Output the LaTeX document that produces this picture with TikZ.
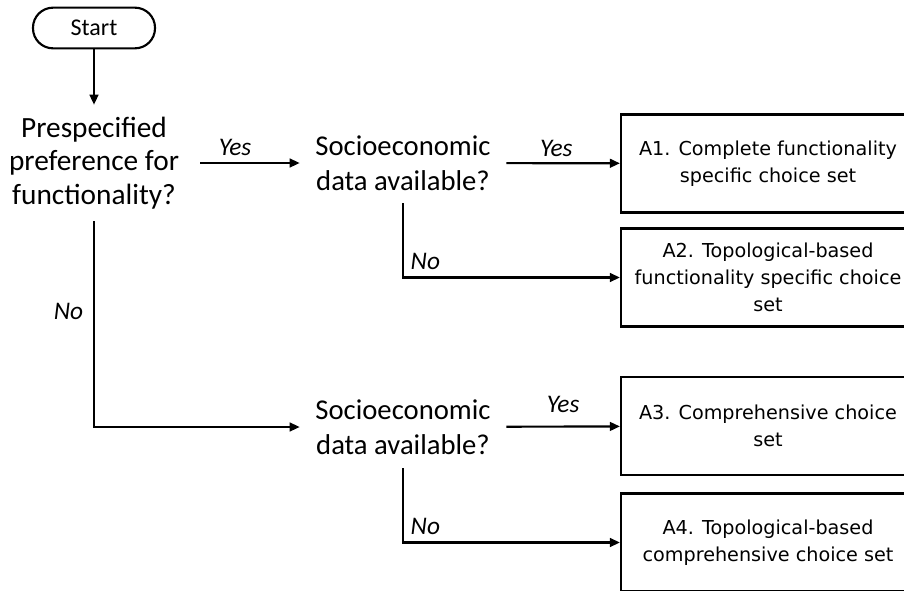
\documentclass[tikz,border=0pt]{standalone}
\usepackage{fontspec}
\setmainfont{Carlito}
\newfontfamily\boxfont{DejaVu Sans}
\usetikzlibrary{arrows.meta}

\tikzset{
  arr/.style={-{Triangle[length=7.5pt,width=6.5pt]}, line width=1.6pt},
  question/.style={align=center, font=\fontsize{21.5}{26}\selectfont, minimum width=154.5pt, minimum height=60pt, inner sep=0pt},
  outcome/.style={draw, line width=1.6pt, align=center, font=\boxfont\fontsize{14.4}{20.5}\selectfont, minimum width=220.5pt, minimum height=73.5pt},
  answer/.style={font=\itshape\fontsize{19}{22}\selectfont},
}

\begin{document}
\begin{tikzpicture}[x=0.75pt, y=-0.75pt]
\useasboundingbox (0,0) rectangle (904,590);
\clip (0,0) rectangle (904,590);
% start
\node[draw, line width=1.6pt, rounded corners=15pt, minimum width=91.5pt, minimum height=30.5pt, font=\fontsize{18}{20}\selectfont] (start) at (94,28) {Start};
% questions
\node[question, font=\fontsize{22}{25}\selectfont, minimum width=159pt, minimum height=87pt] (q1) at (94,163) {Prespecified\\preference for\\functionality?};
\node[question] (q2) at (403,163) {Socioeconomic\\data available?};
\node[question, minimum height=61.5pt] (q3) at (403,427) {Socioeconomic\\data available?};
% outcomes
\node[outcome] (a1) at (768,163.5) {A1. Complete functionality\\specific choice set};
\node[outcome] (a2) at (768,277.5) {A2. Topological-based\\functionality specific choice\\set};
\node[outcome] (a3) at (768,426) {A3. Comprehensive choice\\set};
\node[outcome] (a4) at (768,542.5) {A4. Topological-based\\comprehensive choice set};
% connectors
\draw[arr] (start) -- (q1);
\draw[arr] (q1) -- (q2) node[answer, pos=.35, above=1pt] {Yes};
\draw[arr] (q2) -- (a1) node[answer, pos=.44, above=1pt] {Yes};
\draw[arr] (q2.south) |- (a2) node[answer, pos=.5, anchor=south west, inner sep=5pt] {No};
\draw[arr] (q1.south) |- (q3) node[answer, pos=.22, left=4pt] {No};
\draw[arr] (q3) -- (a3) node[answer, midway, above=6pt] {Yes};
\draw[arr] (q3.south) |- (a4) node[answer, pos=.5, anchor=south west, inner sep=5pt] {No};
\end{tikzpicture}
\end{document}
